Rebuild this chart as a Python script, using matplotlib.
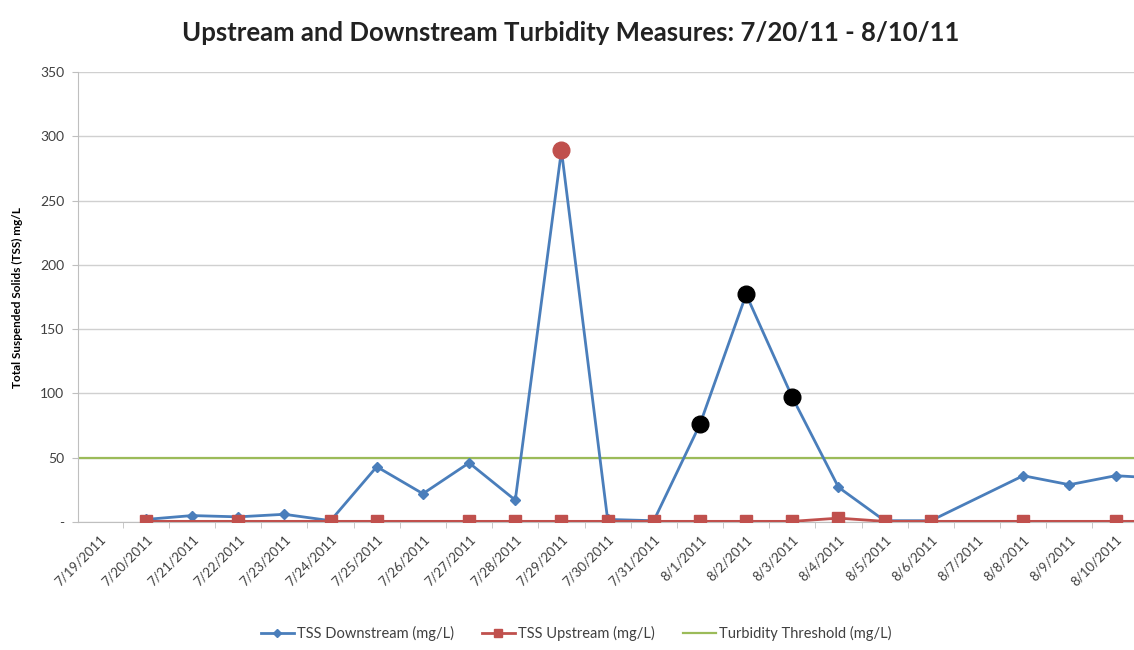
import matplotlib
matplotlib.use('Agg')
import matplotlib.pyplot as plt
import numpy as np

plt.rcParams['font.family'] = ['Lato', 'DejaVu Sans']

# category axis (7/19/2011 .. 8/11/2011, last one cut off by the crop)
dates = ['7/19/2011', '7/20/2011', '7/21/2011', '7/22/2011', '7/23/2011', '7/24/2011',
         '7/25/2011', '7/26/2011', '7/27/2011', '7/28/2011', '7/29/2011', '7/30/2011',
         '7/31/2011', '8/1/2011', '8/2/2011', '8/3/2011', '8/4/2011', '8/5/2011',
         '8/6/2011', '8/7/2011', '8/8/2011', '8/9/2011', '8/10/2011', '8/11/2011']

downstream = [None, 2, 5, 4, 6, 1, 43, 22, 46, 17, 289, 2, 1, 76, 177, 97, 27, 1,
              1, None, 36, 29, 36, 34]
upstream = [None, 0.5, None, 0.5, None, 0.5, 0.5, None, 0.5, 0.5, 0.5, 0.5, 0.5, 0.5,
            0.5, 0.5, 3, 0.5, 0.5, None, 0.5, None, 0.5, 0.5]
threshold = 50

# highlighted points
red_hi = ['7/29/2011']
black_hi = ['8/1/2011', '8/2/2011', '8/3/2011']

blue = '#4A7EBB'
red = '#C0504D'
green = '#9BBB59'

def valid(vals):
    xs = [i for i, v in enumerate(vals) if v is not None]
    ys = [vals[i] for i in xs]
    return xs, ys

fig = plt.figure(figsize=(11.34, 6.5), dpi=100)
ax = fig.add_axes([78/1134, 1 - 522/650, 1 - 78/1134, 450/650])

ax.axhline(threshold, color=green, lw=1.6, zorder=2)

x, y = valid(downstream)
ax.plot(x, y, color=blue, lw=2, marker='D', ms=5.5, mec=blue, mfc=blue, zorder=3,
        label='TSS Downstream (mg/L)')
x, y = valid(upstream)
ax.plot(x, y, color=red, lw=2, marker='s', ms=8, mec=red, mfc=red, zorder=4,
        label='TSS Upstream (mg/L)')
ax.plot([], [], color=green, lw=1.6, label='Turbidity Threshold (mg/L)')

for d in red_hi:
    i = dates.index(d)
    ax.plot(i, downstream[i], 'o', color=red, ms=12, zorder=5)
for d in black_hi:
    i = dates.index(d)
    ax.plot(i, downstream[i], 'o', color='black', ms=12, zorder=5)

ax.set_yticks(range(0, 351, 50))
ax.set_yticklabels(['-'] + [str(v) for v in range(50, 351, 50)])
ax.set_xticks(range(len(dates)))
ax.set_xticklabels(dates, rotation=45, ha='right', rotation_mode='anchor')
ax.set_xticks(np.arange(-0.5, len(dates), 1), minor=True)
ax.set_xlim(-0.47, 22.4)
ax.set_ylim(0, 350)
ax.tick_params(axis='x', which='major', length=0, labelsize=9.5, colors='#404040', pad=8)
ax.tick_params(axis='x', which='minor', length=4, color='#BFBFBF')
ax.tick_params(axis='y', length=4, color='#BFBFBF', labelsize=10, labelcolor='#404040', pad=6)

ax.grid(axis='y', color='#D0D0D0', lw=1)
ax.set_axisbelow(True)
for s in ['top', 'right']:
    ax.spines[s].set_visible(False)
ax.spines['left'].set_color('#BFBFBF')
ax.spines['bottom'].set_color('#BFBFBF')

ax.set_ylabel('Total Suspended Solids (TSS) mg/L', fontsize=8.5, fontweight='bold', labelpad=12)

fig.suptitle('Upstream and Downstream Turbidity Measures: 7/20/11 - 8/10/11',
             x=0.503, y=0.968, fontsize=18.5, fontweight='bold', color='#222222')

leg = fig.legend(loc='center', bbox_to_anchor=(0.508, 0.025), ncol=3, frameon=False,
                 fontsize=10.5, handlelength=2.3, handletextpad=0.2, columnspacing=1.9,
                 markerscale=0.8)
for t in leg.get_texts():
    t.set_color('#404040')

fig.savefig('out.png', dpi=100)
